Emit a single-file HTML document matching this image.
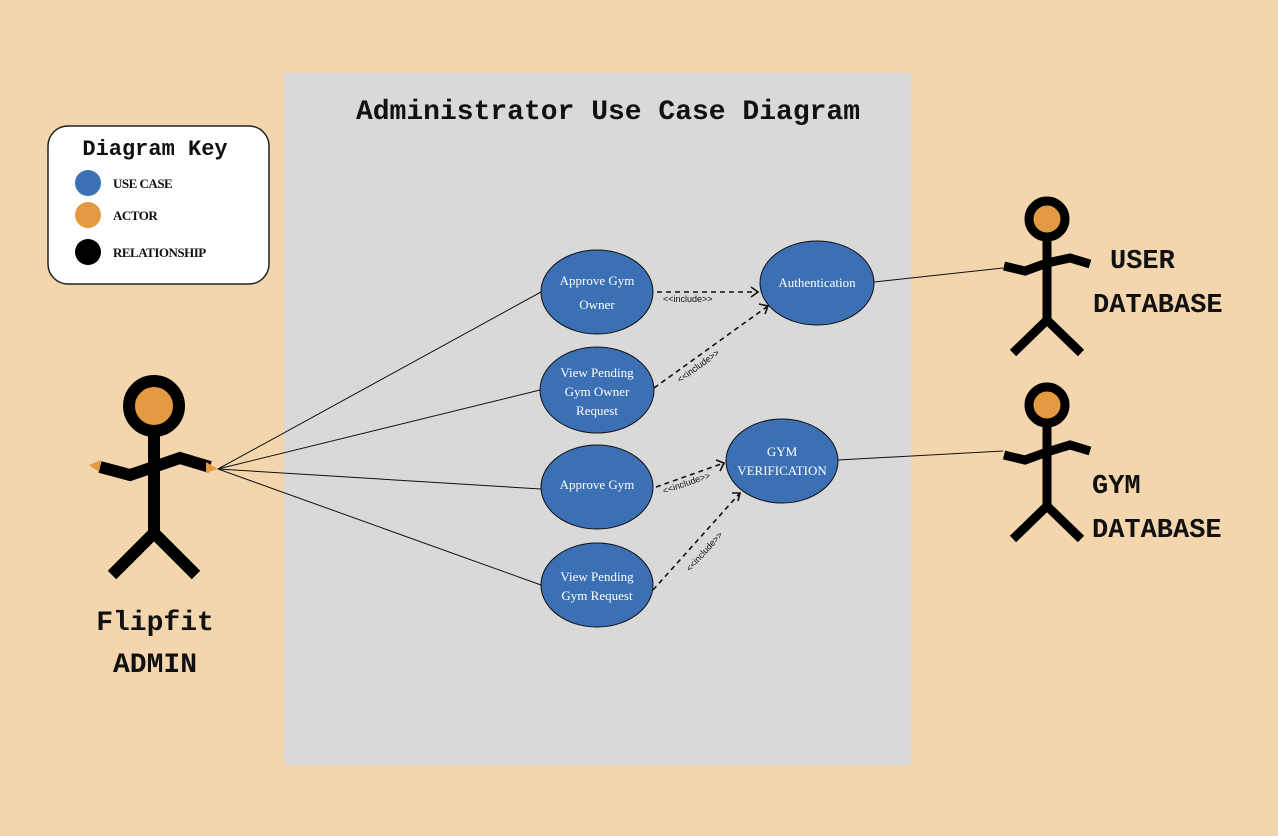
<!DOCTYPE html>
<html><head><meta charset="utf-8"><style>
body{margin:0;background:#f4d6ae;}
svg{display:block}
.m{font-family:"Liberation Mono","DejaVu Sans Mono",monospace;fill:#111;font-weight:bold}
.s{font-family:"Liberation Serif",serif;fill:#fff;font-size:13px;text-anchor:middle}
.k{font-family:"Liberation Serif",serif;font-weight:bold;font-size:13px;fill:#111;letter-spacing:-0.5px}
.i{font-family:"Liberation Sans",sans-serif;font-size:9px;fill:#111}
</style></head><body>
<svg width="1278" height="836" viewBox="0 0 1278 836">
<rect width="1278" height="836" fill="#f4d6ae"/>
<rect x="284" y="73" width="627" height="692" fill="#d9d9d9"/>
<text x="608" y="119" class="m" font-size="28" text-anchor="middle">Administrator Use Case Diagram</text>
<rect x="48" y="126" width="221" height="158" rx="20" fill="#fff" stroke="#222" stroke-width="1.5"/>
<text x="155" y="155" class="m" font-size="22" text-anchor="middle">Diagram Key</text>
<circle cx="88" cy="183" r="13" fill="#3b70b5"/><text x="113" y="188" class="k">USE CASE</text>
<circle cx="88" cy="215" r="13" fill="#e39a41"/><text x="113" y="220" class="k">ACTOR</text>
<circle cx="88" cy="252" r="13" fill="#000"/><text x="113" y="257" class="k">RELATIONSHIP</text>
<g stroke="#111" stroke-width="1" fill="none">
<line x1="218" y1="469" x2="541" y2="292"/>
<line x1="218" y1="469" x2="540" y2="390"/>
<line x1="218" y1="469" x2="541" y2="489"/>
<line x1="218" y1="469" x2="541" y2="585"/>
<line x1="874" y1="282" x2="1003" y2="268"/>
<line x1="838" y1="460" x2="1003" y2="451"/>
</g>
<g stroke="#111" stroke-width="1.6" fill="none" stroke-dasharray="5,4">
<line x1="657" y1="292" x2="758" y2="292"/>
<line x1="654" y1="388" x2="768" y2="306"/>
<line x1="656" y1="487" x2="724" y2="463"/>
<line x1="653" y1="590" x2="740" y2="493"/>
</g>
<g stroke="#111" stroke-width="1.6" fill="none">
<polyline points="751,287 758,292 751,297"/>
<polyline points="759,304 768,306 765,314"/>
<polyline points="716,460 724,463 720,471"/>
<polyline points="732,493 740,493 738,501"/>
</g>
<text x="663" y="302" class="i">&lt;&lt;include&gt;&gt;</text>
<text class="i" transform="translate(680,383) rotate(-36)">&lt;&lt;include&gt;&gt;</text>
<text class="i" transform="translate(664,494) rotate(-19)">&lt;&lt;include&gt;&gt;</text>
<text class="i" transform="translate(690,572) rotate(-48)">&lt;&lt;include&gt;&gt;</text>
<g fill="#3b70b5" stroke="#111" stroke-width="1">
<ellipse cx="597" cy="292" rx="56" ry="42"/>
<ellipse cx="597" cy="390" rx="57" ry="43"/>
<ellipse cx="597" cy="487" rx="56" ry="42"/>
<ellipse cx="597" cy="585" rx="56" ry="42"/>
<ellipse cx="817" cy="283" rx="57" ry="42"/>
<ellipse cx="782" cy="461" rx="56" ry="42"/>
</g>
<text x="597" y="285" class="s">Approve Gym</text><text x="597" y="309" class="s">Owner</text>
<text x="597" y="377" class="s">View Pending</text><text x="597" y="396" class="s">Gym Owner</text><text x="597" y="415" class="s">Request</text>
<text x="597" y="489" class="s">Approve Gym</text>
<text x="597" y="581" class="s">View Pending</text><text x="597" y="600" class="s">Gym Request</text>
<text x="817" y="287" class="s">Authentication</text>
<text x="782" y="456" class="s">GYM</text><text x="782" y="475" class="s">VERIFICATION</text>
<g stroke="#000" stroke-width="12" fill="none" stroke-linejoin="miter">
<line x1="154" y1="436" x2="154" y2="535"/>
<polyline points="100,467 130,475 180,458 210,467"/>
<polyline points="112,575 154,533 196,575"/>
</g>
<circle cx="154" cy="406" r="25" fill="#e39a41" stroke="#000" stroke-width="12"/>
<polygon points="89,465 101,460 99,472" fill="#e39a41"/>
<polygon points="218,469 206,462 206,473" fill="#e39a41"/>
<text x="155" y="630" class="m" font-size="28" text-anchor="middle">Flipfit</text>
<text x="155" y="672" class="m" font-size="28" text-anchor="middle">ADMIN</text>
<g stroke="#000" stroke-width="9" fill="none">
<line x1="1047" y1="240" x2="1047" y2="320"/>
<polyline points="1004,266 1025,271 1047,263 1070,258 1090,264"/>
<polyline points="1013,353 1047,320 1081,353"/>
<line x1="1047" y1="425" x2="1047" y2="505"/>
<polyline points="1004,455 1025,460 1047,452 1070,445 1090,451"/>
<polyline points="1013,539 1047,506 1081,539"/>
</g>
<circle cx="1047" cy="219" r="18" fill="#e39a41" stroke="#000" stroke-width="9"/>
<circle cx="1047" cy="405" r="18" fill="#e39a41" stroke="#000" stroke-width="9"/>
<text x="1110" y="268" class="m" font-size="27">USER</text>
<text x="1093" y="312" class="m" font-size="27">DATABASE</text>
<text x="1092" y="493" class="m" font-size="27">GYM</text>
<text x="1092" y="537" class="m" font-size="27">DATABASE</text>
</svg>
</body></html>
